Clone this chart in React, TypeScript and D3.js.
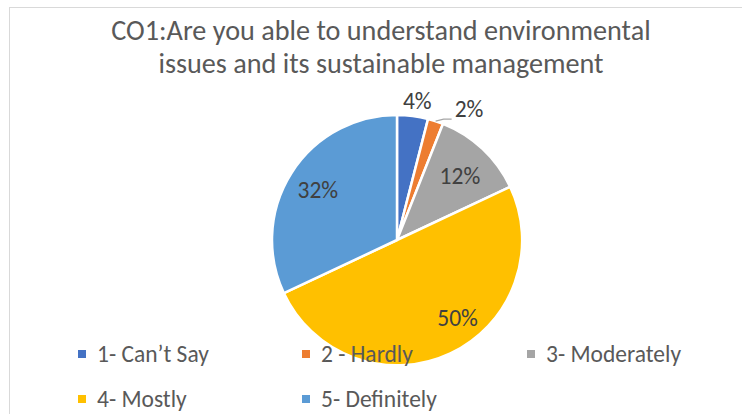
import React from "react";
import * as d3 from "d3";

const categories = ["1- Can\u2019t Say", "2 - Hardly", "3- Moderately", "4- Mostly", "5- Definitely"];
const values = [4, 2, 12, 50, 32];
const labels = ["4%", "2%", "12%", "50%", "32%"];
const colors = ["#4472C4", "#ED7D31", "#A5A5A5", "#FFC000", "#5B9BD5"];
const titleLines = ["CO1:Are you able to understand environmental", "issues and its sustainable management"];

export default function App() {
  const W = 742, H = 414;
  const cx = 397, cy = 240, r = 125;
  const FONT = "Carlito, Calibri, Lato, sans-serif";
  const pie = d3.pie<number>().sort(null).value((d) => d)(values);
  const arc = d3.arc<d3.PieArcDatum<number>>().innerRadius(0).outerRadius(r);
  // label placement: radius fraction and angle tweak (radians)
  const labelR = [1.12, 1.35, 0.72, 0.79, 0.75];
  const labelDA = [0.02, 0, 0.02, -0.22, 0];
  const legendCols = [82, 306, 531];
  const legendRows = [354, 399];
  return (
    <svg width={W} height={H} style={{ position: "absolute", left: 0, top: 0, background: "#fff" }}>
      <rect x={9.5} y={7.5} width={W} height={H} fill="#fff" stroke="#d9d9d9" strokeWidth={1} />
      {titleLines.map((t, i) => (
        <text key={i} x={381} y={40 + i * 33} textAnchor="middle" fontFamily={FONT} fontSize={28.2} fill="#595959">
          {t}
        </text>
      ))}
      <g transform={`translate(${cx},${cy})`}>
        {pie.map((p, i) => (
          <path key={i} d={arc(p) || ""} fill={colors[i]} stroke="#fff" strokeWidth={2.5} strokeLinejoin="round" />
        ))}
        {pie.map((p, i) => {
          const a = (p.startAngle + p.endAngle) / 2 + labelDA[i];
          const x = Math.sin(a) * r * labelR[i];
          const y = -Math.cos(a) * r * labelR[i];
          if (i === 1) {
            const ox = Math.sin(a) * r, oy = -Math.cos(a) * r;
            return (
              <g key={i}>
                <polyline points={`${ox},${oy} ${ox + 8},${oy - 2} ${ox + 16},${oy - 2}`} fill="none" stroke="#a6a6a6" strokeWidth={1.2} />
                <text x={ox + 19} y={oy - 12} dominantBaseline="central" fontFamily={FONT} fontSize={23.5} fill="#404040">{labels[i]}</text>
              </g>
            );
          }
          return (
            <text key={i} x={x} y={y} textAnchor="middle" dominantBaseline="central" fontFamily={FONT} fontSize={23.5} fill="#404040">
              {labels[i]}
            </text>
          );
        })}
      </g>
      {categories.map((c, i) => {
        const col = i < 3 ? i : i - 3;
        const row = i < 3 ? 0 : 1;
        const x = legendCols[col];
        const y = legendRows[row];
        return (
          <g key={i}>
            <rect x={x - 4} y={y - 4} width={8} height={8} fill={colors[i]} />
            <text x={x + 15} y={y} dominantBaseline="central" fontFamily={FONT} fontSize={23.5} fill="#595959">{c}</text>
          </g>
        );
      })}
    </svg>
  );
}
